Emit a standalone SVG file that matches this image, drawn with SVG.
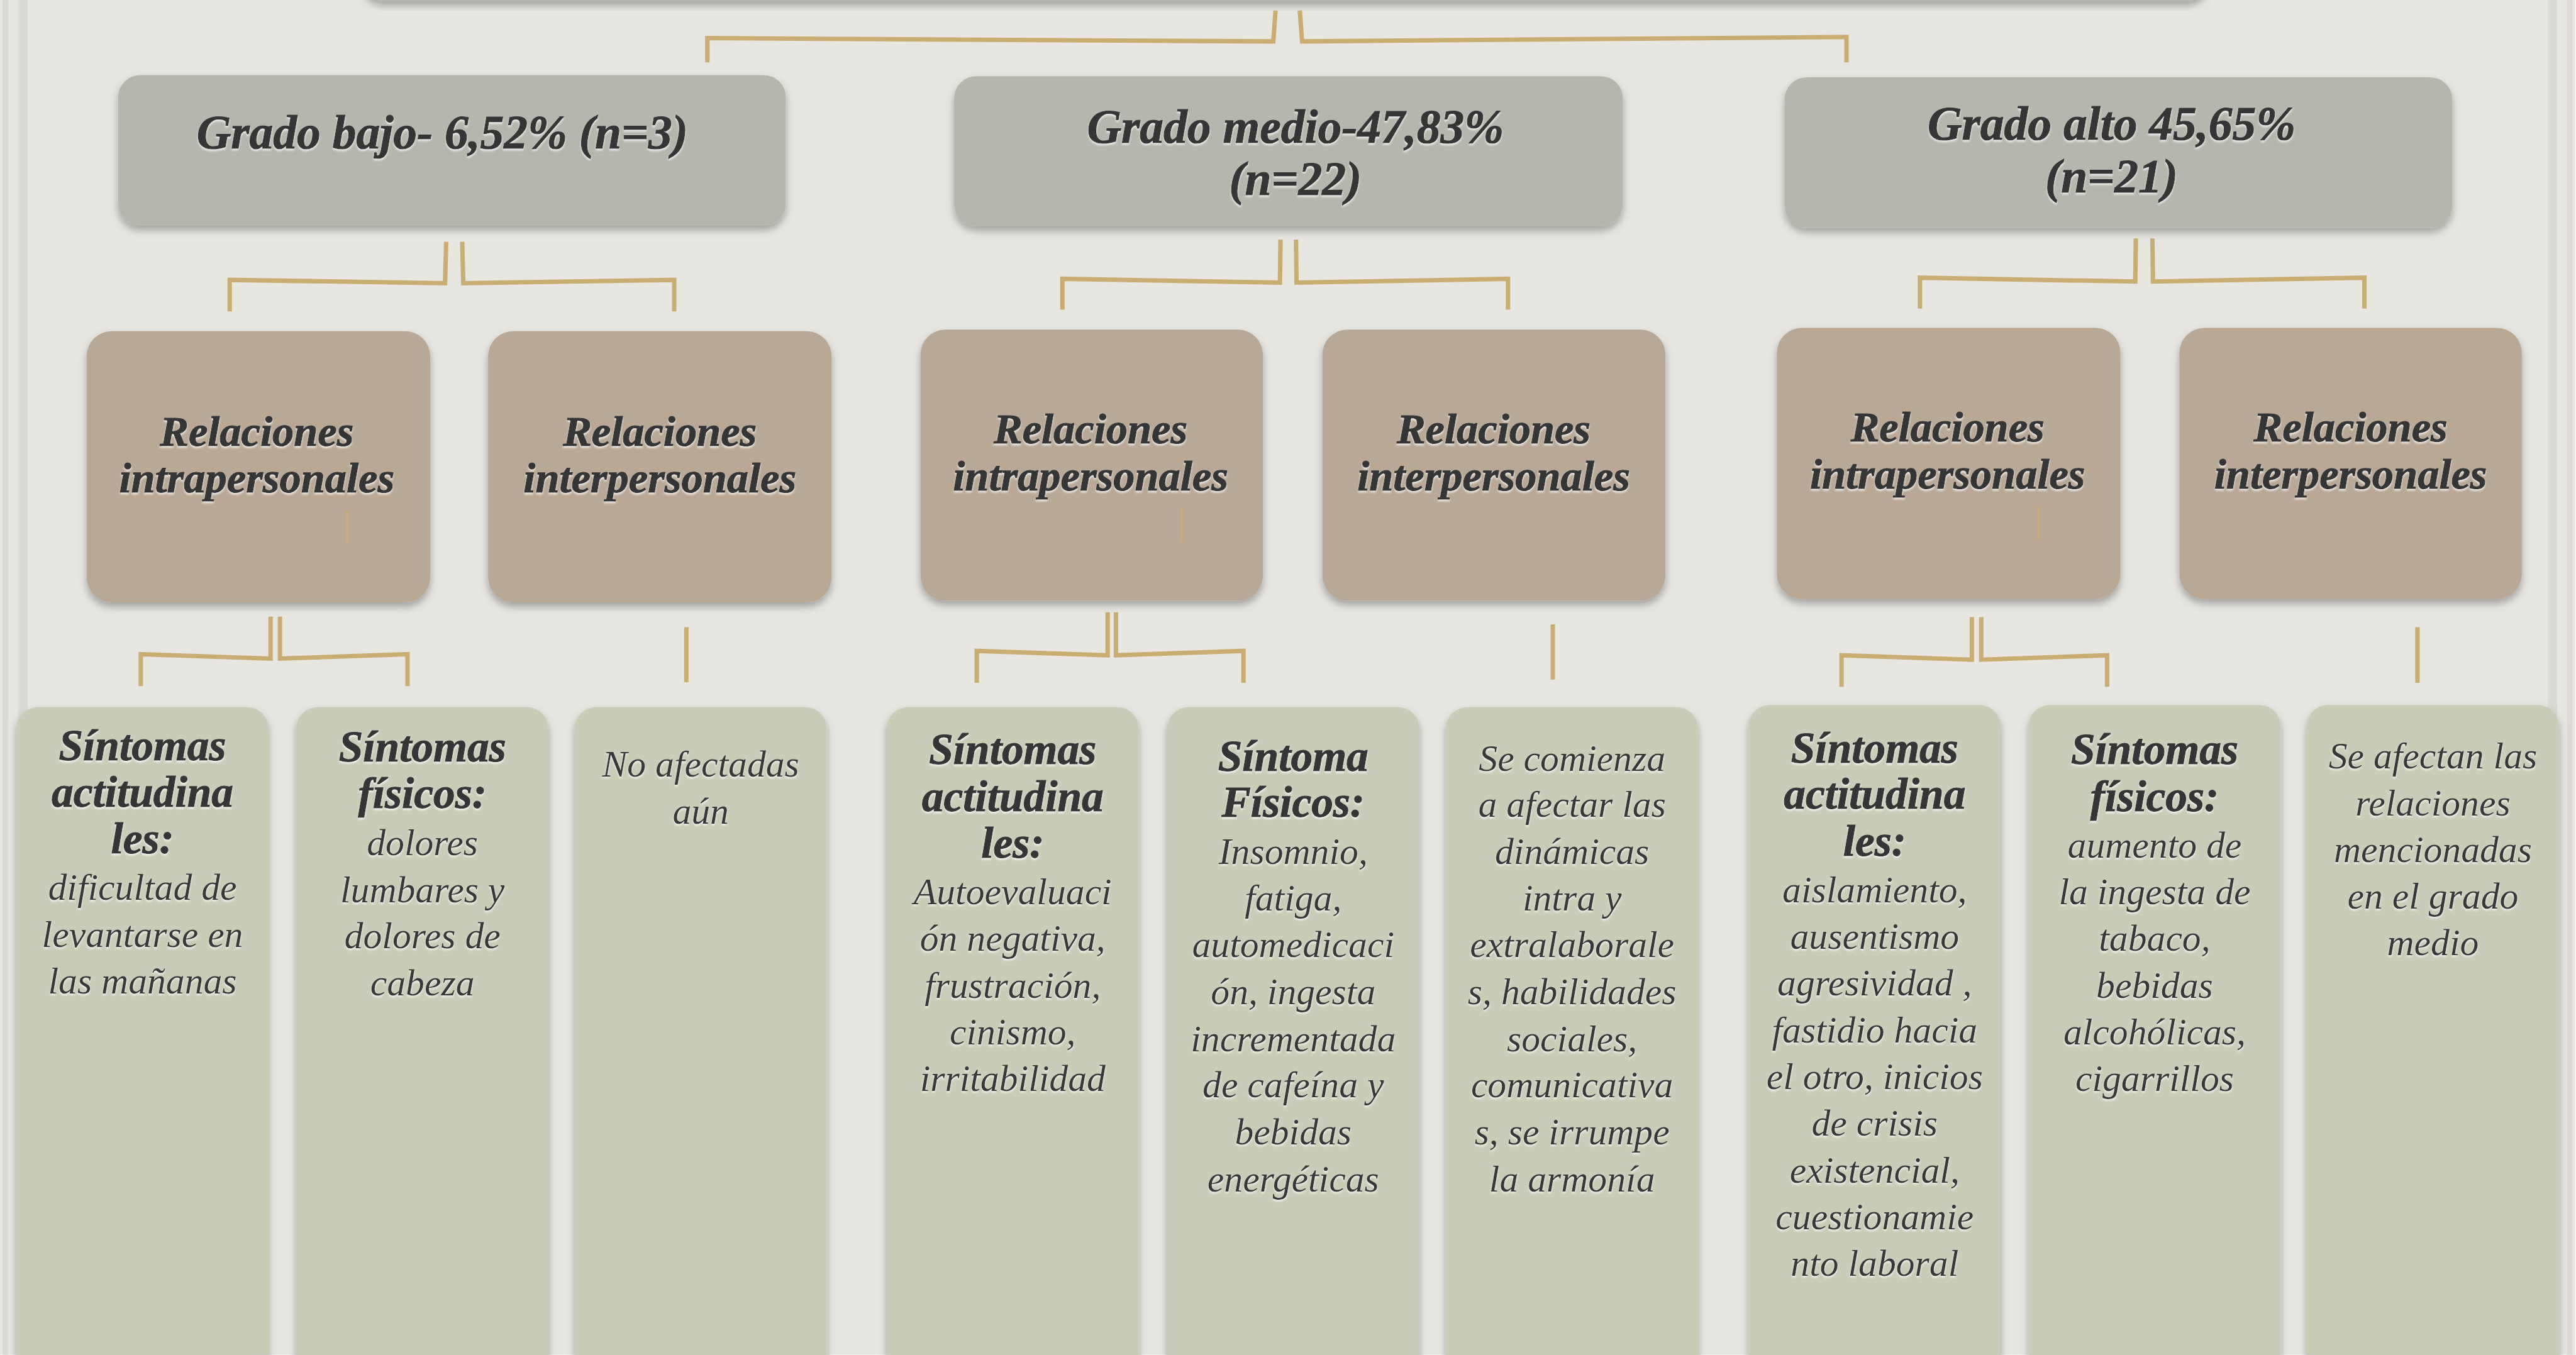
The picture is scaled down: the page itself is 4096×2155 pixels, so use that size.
<svg xmlns="http://www.w3.org/2000/svg" width="4096" height="2155" viewBox="0 0 4096 2155">
<defs>
<style>
.l1{fill:#b5b7ae}
.l2{fill:#b9a895}
.l3{fill:#c9ccb7}
.con{fill:none;stroke:#c9ad72;stroke-width:8;stroke-linejoin:miter;stroke-linecap:butt}
.mark{fill:none;stroke:#c9ad72;stroke-width:3.5}
.hb{font-family:"Liberation Serif","Times New Roman",serif;font-weight:bold;font-style:italic;fill:#363636;stroke:#363636;stroke-width:1.4;text-anchor:middle}
.it{font-family:"Liberation Serif","Times New Roman",serif;font-style:italic;fill:#383838;text-anchor:middle}
.t1{font-size:86px}
.t2{font-size:78px}
.t3{font-size:79px}
.t4{font-size:68px}
</style>
<filter id="sh" x="-10%" y="-10%" width="120%" height="130%">
<feDropShadow dx="0" dy="8" stdDeviation="7" flood-color="#000" flood-opacity="0.3"/>
</filter>
<filter id="emb" x="-5%" y="-20%" width="110%" height="150%">
<feDropShadow dx="0" dy="3" stdDeviation="2" flood-color="#ffffff" flood-opacity="0.75"/>
</filter>
</defs>
<g transform="scale(0.878)">
<rect x="0" y="0" width="4664" height="2454" fill="#e7e6e1"/>
<g id="borders" fill="#dcdad5">
<rect x="5" y="0" width="10" height="2454"/>
<rect x="33" y="0" width="17" height="2454"/>
<rect x="4614" y="0" width="17" height="2454"/>
<rect x="4649" y="0" width="10" height="2454"/>
</g>
<g id="root">
<rect class="l1" x="654" y="-80" width="3347" height="82" rx="40" filter="url(#sh)"/>
</g>
<g id="connectors">
<polyline class="con" points="2310,19 2306,75 1281,69 1281,113"/>
<polyline class="con" points="2354,19 2358,75 3344,67 3344,113"/>
<polyline class="con" points="808,438 806,513 416,507 416,564"/>
<polyline class="con" points="837,438 839,513 1221,507 1221,564"/>
<polyline class="con" points="2319,434 2318,512 1924,505 1924,561"/>
<polyline class="con" points="2347,434 2348,512 2731,505 2731,561"/>
<polyline class="con" points="3868,432 3867,510 3477,503 3477,559"/>
<polyline class="con" points="3898,432 3899,510 4282,503 4282,559"/>
<polyline class="con" points="490,1117 490,1193 255,1185 255,1243"/>
<polyline class="con" points="507,1117 507,1193 738,1185 738,1243"/>
<polyline class="con" points="1243,1136 1243,1236"/>
<polyline class="con" points="2006,1109 2006,1187 1769,1179 1769,1237"/>
<polyline class="con" points="2021,1109 2021,1187 2252,1179 2252,1237"/>
<polyline class="con" points="2812,1131 2812,1231"/>
<polyline class="con" points="3571,1118 3571,1195 3335,1187 3335,1244"/>
<polyline class="con" points="3588,1118 3588,1195 3816,1187 3816,1244"/>
<polyline class="con" points="4378,1136 4378,1237"/>
</g>
<g id="grado-bajo">
<rect class="l1" x="214" y="136" width="1209" height="273" rx="40" filter="url(#sh)"/>
<text class="hb t1" x="801" y="269" filter="url(#emb)">Grado bajo- 6,52% (n=3)</text>
</g>
<g id="grado-medio">
<rect class="l1" x="1728" y="138" width="1211" height="272" rx="40" filter="url(#sh)"/>
<text class="hb t1" filter="url(#emb)"><tspan x="2346" y="258">Grado medio-47,83%</tspan><tspan x="2346" y="353">(n=22)</tspan></text>
</g>
<g id="grado-alto">
<rect class="l1" x="3232" y="140" width="1209" height="273" rx="40" filter="url(#sh)"/>
<text class="hb t1" filter="url(#emb)"><tspan x="3824" y="253">Grado alto 45,65%</tspan><tspan x="3824" y="348">(n=21)</tspan></text>
</g>
<g id="bajo-intra">
<rect class="l2" x="157" y="600" width="622" height="491" rx="45" filter="url(#sh)"/>
<text class="hb t2" filter="url(#emb)"><tspan x="465" y="807">Relaciones</tspan><tspan x="465" y="892">intrapersonales</tspan></text>
<line class="mark" x1="629" y1="924" x2="629" y2="984"/>
</g>
<g id="bajo-inter">
<rect class="l2" x="884" y="600" width="622" height="491" rx="45" filter="url(#sh)"/>
<text class="hb t2" filter="url(#emb)"><tspan x="1195" y="807">Relaciones</tspan><tspan x="1195" y="892">interpersonales</tspan></text>
</g>
<g id="medio-intra">
<rect class="l2" x="1667" y="597" width="620" height="491" rx="45" filter="url(#sh)"/>
<text class="hb t2" filter="url(#emb)"><tspan x="1975" y="803">Relaciones</tspan><tspan x="1975" y="888">intrapersonales</tspan></text>
<line class="mark" x1="2140" y1="920" x2="2140" y2="982"/>
</g>
<g id="medio-inter">
<rect class="l2" x="2395" y="597" width="621" height="491" rx="45" filter="url(#sh)"/>
<text class="hb t2" filter="url(#emb)"><tspan x="2705" y="803">Relaciones</tspan><tspan x="2705" y="888">interpersonales</tspan></text>
</g>
<g id="alto-intra">
<rect class="l2" x="3218" y="594" width="622" height="491" rx="45" filter="url(#sh)"/>
<text class="hb t2" filter="url(#emb)"><tspan x="3527" y="800">Relaciones</tspan><tspan x="3527" y="885">intrapersonales</tspan></text>
<line class="mark" x1="3691" y1="917" x2="3691" y2="978"/>
</g>
<g id="alto-inter">
<rect class="l2" x="3947" y="594" width="620" height="491" rx="45" filter="url(#sh)"/>
<text class="hb t2" filter="url(#emb)"><tspan x="4257" y="800">Relaciones</tspan><tspan x="4257" y="885">interpersonales</tspan></text>
</g>
<g id="bajo-actitudinales">
<rect class="l3" x="30" y="1281" width="456" height="1250" rx="38" filter="url(#sh)"/>
<text class="hb t3" filter="url(#emb)"><tspan x="258" y="1377">Síntomas</tspan><tspan x="258" y="1461">actitudina</tspan><tspan x="258" y="1546">les:</tspan></text>
<text class="it t4" filter="url(#emb)"><tspan x="258" y="1630">dificultad de</tspan><tspan x="258" y="1715">levantarse en</tspan><tspan x="258" y="1800">las mañanas</tspan></text>
</g>
<g id="bajo-fisicos">
<rect class="l3" x="537" y="1281" width="456" height="1250" rx="38" filter="url(#sh)"/>
<text class="hb t3" filter="url(#emb)"><tspan x="765" y="1379">Síntomas</tspan><tspan x="765" y="1463">físicos:</tspan></text>
<text class="it t4" filter="url(#emb)"><tspan x="765" y="1549">dolores</tspan><tspan x="765" y="1634">lumbares y</tspan><tspan x="765" y="1718">dolores de</tspan><tspan x="765" y="1803">cabeza</tspan></text>
</g>
<g id="bajo-interpersonales">
<rect class="l3" x="1041" y="1281" width="456" height="1250" rx="38" filter="url(#sh)"/>
<text class="it t4" filter="url(#emb)"><tspan x="1269" y="1407">No afectadas</tspan><tspan x="1269" y="1492">aún</tspan></text>
</g>
<g id="medio-actitudinales">
<rect class="l3" x="1606" y="1281" width="456" height="1250" rx="38" filter="url(#sh)"/>
<text class="hb t3" filter="url(#emb)"><tspan x="1834" y="1384">Síntomas</tspan><tspan x="1834" y="1469">actitudina</tspan><tspan x="1834" y="1553">les:</tspan></text>
<text class="it t4" filter="url(#emb)"><tspan x="1834" y="1638">Autoevaluaci</tspan><tspan x="1834" y="1722">ón negativa,</tspan><tspan x="1834" y="1807">frustración,</tspan><tspan x="1834" y="1892">cinismo,</tspan><tspan x="1834" y="1976">irritabilidad</tspan></text>
</g>
<g id="medio-fisicos">
<rect class="l3" x="2114" y="1281" width="456" height="1250" rx="38" filter="url(#sh)"/>
<text class="hb t3" filter="url(#emb)"><tspan x="2342" y="1396">Síntoma</tspan><tspan x="2342" y="1480">Físicos:</tspan></text>
<text class="it t4" filter="url(#emb)"><tspan x="2342" y="1565">Insomnio,</tspan><tspan x="2342" y="1649">fatiga,</tspan><tspan x="2342" y="1734">automedicaci</tspan><tspan x="2342" y="1819">ón, ingesta</tspan><tspan x="2342" y="1904">incrementada</tspan><tspan x="2342" y="1988">de cafeína y</tspan><tspan x="2342" y="2073">bebidas</tspan><tspan x="2342" y="2158">energéticas</tspan></text>
</g>
<g id="medio-interpersonales">
<rect class="l3" x="2619" y="1281" width="456" height="1250" rx="38" filter="url(#sh)"/>
<text class="it t4" filter="url(#emb)"><tspan x="2847" y="1396">Se comienza</tspan><tspan x="2847" y="1480">a afectar las</tspan><tspan x="2847" y="1565">dinámicas</tspan><tspan x="2847" y="1649">intra y</tspan><tspan x="2847" y="1734">extralaborale</tspan><tspan x="2847" y="1819">s, habilidades</tspan><tspan x="2847" y="1904">sociales,</tspan><tspan x="2847" y="1988">comunicativa</tspan><tspan x="2847" y="2073">s, se irrumpe</tspan><tspan x="2847" y="2158">la armonía</tspan></text>
</g>
<g id="alto-actitudinales">
<rect class="l3" x="3167" y="1277" width="456" height="1250" rx="38" filter="url(#sh)"/>
<text class="hb t3" filter="url(#emb)"><tspan x="3395" y="1381">Síntomas</tspan><tspan x="3395" y="1465">actitudina</tspan><tspan x="3395" y="1550">les:</tspan></text>
<text class="it t4" filter="url(#emb)"><tspan x="3395" y="1634">aislamiento,</tspan><tspan x="3395" y="1719">ausentismo</tspan><tspan x="3395" y="1803">agresividad ,</tspan><tspan x="3395" y="1888">fastidio hacia</tspan><tspan x="3395" y="1973">el otro, inicios</tspan><tspan x="3395" y="2057">de crisis</tspan><tspan x="3395" y="2142">existencial,</tspan><tspan x="3395" y="2227">cuestionamie</tspan><tspan x="3395" y="2311">nto laboral</tspan></text>
</g>
<g id="alto-fisicos">
<rect class="l3" x="3674" y="1277" width="456" height="1250" rx="38" filter="url(#sh)"/>
<text class="hb t3" filter="url(#emb)"><tspan x="3902" y="1384">Síntomas</tspan><tspan x="3902" y="1469">físicos:</tspan></text>
<text class="it t4" filter="url(#emb)"><tspan x="3902" y="1553">aumento de</tspan><tspan x="3902" y="1638">la ingesta de</tspan><tspan x="3902" y="1722">tabaco,</tspan><tspan x="3902" y="1807">bebidas</tspan><tspan x="3902" y="1892">alcohólicas,</tspan><tspan x="3902" y="1976">cigarrillos</tspan></text>
</g>
<g id="alto-interpersonales">
<rect class="l3" x="4178" y="1277" width="456" height="1250" rx="38" filter="url(#sh)"/>
<text class="it t4" filter="url(#emb)"><tspan x="4406" y="1392">Se afectan las</tspan><tspan x="4406" y="1477">relaciones</tspan><tspan x="4406" y="1561">mencionadas</tspan><tspan x="4406" y="1646">en el grado</tspan><tspan x="4406" y="1730">medio</tspan></text>
</g>
</g>
</svg>
